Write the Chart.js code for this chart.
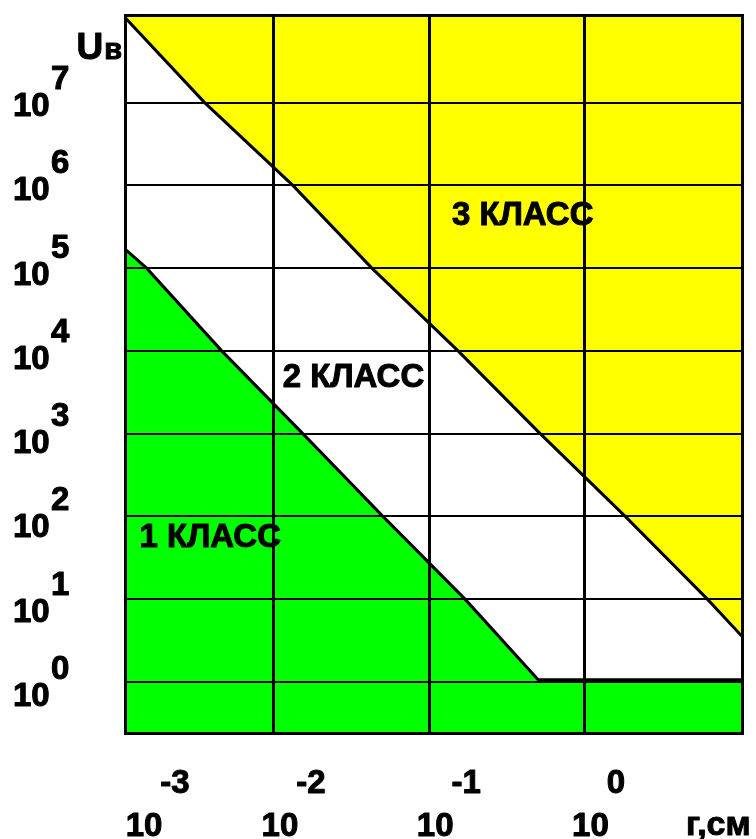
<!DOCTYPE html>
<html>
<head>
<meta charset="utf-8">
<script src="https://cdn.jsdelivr.net/npm/chart.js@4/dist/chart.umd.min.js"></script>
<style>
  html, body { margin: 0; padding: 0; background: #fff; }
  #wrap { width: 756px; height: 839px; }
</style>
</head>
<body>
<div id="wrap"><canvas id="chart" width="756" height="839"></canvas></div>
<script>
// Boundary between class 2 and class 3: radius r (cm) against voltage U (V)
const upperRadius  = [1.099e-3, 3.58e-3, 1.324e-2, 4.276e-2, 0.1535, 0.5188, 1.832, 6.194, 10.35];
const upperVoltage = [1.07e8, 1e7, 1e6, 1e5, 1e4, 1e3, 100, 10, 3.55];

// Boundary between class 1 and class 2 (flat at about 1 V for large radii)
const lowerRadius  = [1.099e-3, 1.514e-3, 4.613e-3, 1.535e-2, 5.035e-2, 0.1702, 0.5035, 10.35];
const lowerVoltage = [1.7e5, 1e5, 1e4, 1e3, 100, 10, 1.06, 1.06];

// Decade exponents shown on the axes
const xPowers = [-3, -2, -1, 0];
const yPowers = [0, 1, 2, 3, 4, 5, 6, 7];

// Region names and the (r, U) point where each name starts
const classNames   = ['1 КЛАСС', '2 КЛАСС', '3 КЛАСС'];
const classAnchorR = [1.362e-3, 0.0114, 0.1403];
const classAnchorU = [42.9, 3690, 3.36e5];

const xRange = [1.099e-3, 10.35];
const yRange = [0.241, 1.146e8];

const toPoints = (rs, us) => rs.map((r, i) => ({ x: r, y: us[i] }));
const FONT = '"Liberation Sans", Arial, sans-serif';

const decadeTicks = powers => scale => {
  scale.ticks = powers
    .map(p => ({ value: Math.pow(10, p) }))
    .filter(t => t.value >= scale.min && t.value <= scale.max);
};

// heavy black text: fill plus a thin outline
function heavyText(ctx, text, x, y) {
  ctx.fillText(text, x, y);
  ctx.strokeText(text, x, y);
}

const decor = {
  id: 'decor',
  afterDraw(chart) {
    const ctx = chart.ctx;
    const a = chart.chartArea;
    const xs = chart.scales.x;
    const ys = chart.scales.y;
    ctx.save();

    // frame
    ctx.strokeStyle = '#000';
    ctx.lineWidth = 3;
    ctx.strokeRect(a.left + 0.5, a.top + 0.5, a.right - a.left, a.bottom - a.top);

    ctx.fillStyle = '#000';
    ctx.lineWidth = 1;
    ctx.lineJoin = 'round';
    ctx.textBaseline = 'alphabetic';
    ctx.font = 'bold 33px ' + FONT;

    // y-axis decade labels: 10 with a raised exponent
    yPowers.forEach(k => {
      const c = ys.getPixelForValue(Math.pow(10, k)) + 1.3 + 1.55 * (7 - k);
      ctx.textAlign = 'left';
      heavyText(ctx, '10', 13, c + 12);
      heavyText(ctx, String(k), 51, c - 15);
    });

    // x-axis decade labels
    const w10 = ctx.measureText('10').width;
    xPowers.forEach(k => {
      const cx = Math.max(xs.getPixelForValue(Math.pow(10, k)) + 6, a.left + 19);
      ctx.textAlign = 'center';
      heavyText(ctx, '10', cx, 836);
      ctx.textAlign = 'left';
      heavyText(ctx, String(k), cx + w10 / 2 - 2, 793);
    });

    // axis names
    ctx.textAlign = 'left';
    ctx.font = 'bold 34px ' + FONT;
    heavyText(ctx, 'г,см', 686, 835);

    ctx.font = 'bold 37px ' + FONT;
    const wU = ctx.measureText('U').width;
    ctx.font = 'bold 29px ' + FONT;
    const wB = ctx.measureText('в').width;
    const uLeft = a.left - 3 - wB - wU - 1;
    ctx.font = 'bold 37px ' + FONT;
    heavyText(ctx, 'U', uLeft, 59);
    ctx.font = 'bold 29px ' + FONT;
    heavyText(ctx, 'в', uLeft + wU + 1, 59);

    // region names
    ctx.font = 'bold 33px ' + FONT;
    classNames.forEach((name, i) => {
      heavyText(ctx, name, xs.getPixelForValue(classAnchorR[i]), ys.getPixelForValue(classAnchorU[i]));
    });

    ctx.restore();
  }
};

new Chart(document.getElementById('chart'), {
  type: 'line',
  data: {
    datasets: [
      {
        label: '2/3',
        data: toPoints(upperRadius, upperVoltage),
        borderColor: '#000',
        borderWidth: 3,
        backgroundColor: '#ffff00',
        fill: 'end',
        pointRadius: 0,
        tension: 0
      },
      {
        label: '1/2',
        data: toPoints(lowerRadius, lowerVoltage),
        borderColor: '#000',
        borderWidth: 3,
        backgroundColor: '#00ff00',
        fill: 'start',
        pointRadius: 0,
        tension: 0
      }
    ]
  },
  options: {
    responsive: false,
    animation: false,
    devicePixelRatio: 1,
    layout: { padding: { left: 125, top: 15, right: 14, bottom: 106 } },
    plugins: { legend: { display: false }, tooltip: { enabled: false } },
    scales: {
      x: {
        type: 'logarithmic',
        min: xRange[0],
        max: xRange[1],
        border: { display: false },
        grid: { color: '#000', lineWidth: 3, drawTicks: false, z: 1 },
        ticks: { display: false },
        afterBuildTicks: decadeTicks(xPowers)
      },
      y: {
        type: 'logarithmic',
        min: yRange[0],
        max: yRange[1],
        border: { display: false },
        grid: { color: '#000', lineWidth: 2, drawTicks: false, z: 1 },
        ticks: { display: false },
        afterBuildTicks: decadeTicks(yPowers)
      }
    }
  },
  plugins: [decor]
});
</script>
</body>
</html>
